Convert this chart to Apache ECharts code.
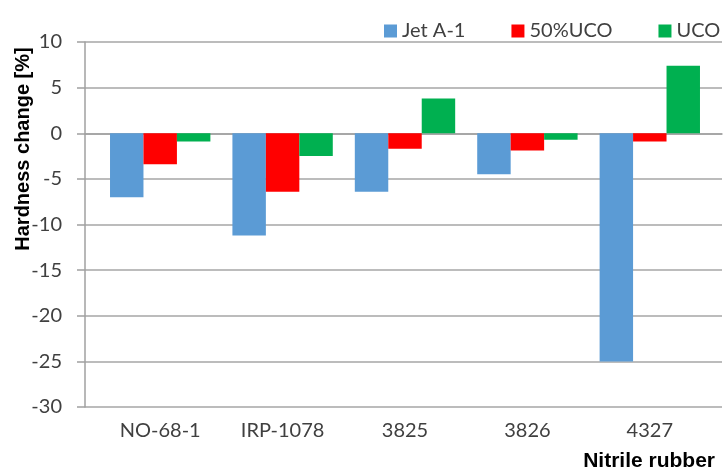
<!DOCTYPE html>
<html>
<head>
<meta charset="utf-8">
<script src="https://cdn.jsdelivr.net/npm/echarts@6/dist/echarts.min.js"></script>
<style>
  html, body { margin: 0; padding: 0; background: #fff; }
  #chart { width: 727px; height: 468px; }
</style>
</head>
<body>
<div id="chart"></div>
<script>
// data
const categories = ['NO-68-1', 'IRP-1078', '3825', '3826', '4327'];
const seriesNames = ['Jet A-1', '50%UCO', 'UCO'];
const jetA1 = [-7.0, -11.2, -6.4, -4.5, -25.0];
const uco50 = [-3.4, -6.4, -1.7, -1.9, -0.9];
const uco = [-0.9, -2.5, 3.8, -0.7, 7.4];
const colors = ['#5B9BD5', '#FF0000', '#00B050'];

const chart = echarts.init(document.getElementById('chart'));

const labelFont = 'Lato, "Open Sans", sans-serif';
const titleFont = '"Liberation Sans", Arial, sans-serif';

const option = {
  animation: false,
  color: colors,
  legend: {
    data: seriesNames,
    left: 379,
    top: 16,
    icon: 'rect',
    itemWidth: 13,
    itemHeight: 13,
    itemGap: 46,
    textStyle: { fontFamily: labelFont, fontSize: 20, color: '#404040' }
  },
  // grid 0: frame, grid lines, y labels; grid 1: the bars
  grid: [
    { left: 85, right: 5, top: 42, bottom: 61 },
    { left: 99, right: 16, top: 42, bottom: 61 }
  ],
  xAxis: [
    {
      type: 'category',
      gridIndex: 0,
      data: categories,
      axisLine: { onZero: true, lineStyle: { color: '#A0A0A0', width: 1.5 } },
      axisTick: { show: false },
      axisLabel: { show: false }
    },
    {
      type: 'category',
      gridIndex: 1,
      data: categories,
      axisLine: { show: false },
      axisTick: { show: false },
      axisLabel: {
        margin: 14,
        fontFamily: labelFont,
        fontSize: 20,
        color: '#404040'
      }
    }
  ],
  yAxis: [
    {
      type: 'value',
      gridIndex: 0,
      min: -30,
      max: 10,
      interval: 5,
      axisLine: { show: true, lineStyle: { color: '#A0A0A0', width: 1.5 } },
      axisTick: { show: true, length: 8, lineStyle: { color: '#A0A0A0', width: 1.5 } },
      axisLabel: {
        margin: 23,
        fontFamily: labelFont,
        fontSize: 20,
        color: '#404040'
      },
      splitLine: { lineStyle: { color: '#A6A6A6', width: 1.5 } }
    },
    {
      type: 'value',
      gridIndex: 1,
      min: -30,
      max: 10,
      interval: 5,
      axisLine: { show: false },
      axisTick: { show: false },
      axisLabel: { show: false },
      splitLine: { show: false }
    }
  ],
  series: [
    { name: seriesNames[0], type: 'bar', data: jetA1 },
    { name: seriesNames[1], type: 'bar', data: uco50 },
    { name: seriesNames[2], type: 'bar', data: uco }
  ].map(s => Object.assign(s, {
    xAxisIndex: 1,
    yAxisIndex: 1,
    barGap: '0%',
    barCategoryGap: '18%'
  })),
  graphic: [
    {
      type: 'text',
      x: 23,
      y: 149,
      rotation: Math.PI / 2,
      style: {
        text: 'Hardness change [%]',
        fontFamily: titleFont,
        fontWeight: 'bold',
        fontSize: 20,
        fill: '#000',
        align: 'center',
        verticalAlign: 'middle'
      }
    },
    {
      type: 'text',
      x: 715,
      y: 461,
      style: {
        text: 'Nitrile rubber',
        fontFamily: titleFont,
        fontWeight: 'bold',
        fontSize: 21,
        fill: '#000',
        align: 'right',
        verticalAlign: 'middle'
      }
    }
  ]
};

chart.setOption(option);
</script>
</body>
</html>
